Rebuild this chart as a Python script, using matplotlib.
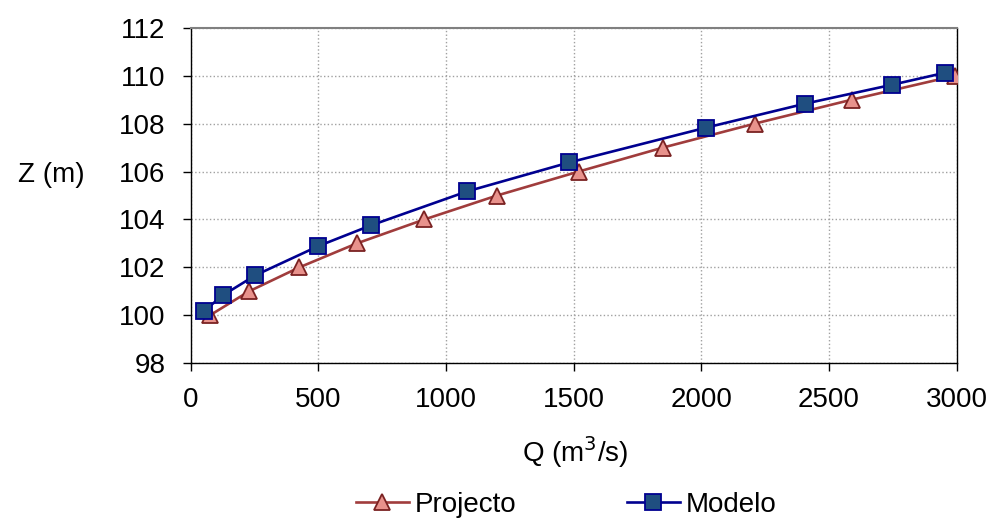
import matplotlib.pyplot as plt

# dati
q_projecto = [75, 228, 425, 650, 915, 1200, 1520, 1850, 2210, 2590, 2995]
z_projecto = [100, 101, 102, 103, 104, 105, 106, 107, 108, 109, 110]

q_modelo = [52, 125, 253, 500, 705, 1082, 1483, 2018, 2406, 2747, 2954]
z_modelo = [100.18, 100.83, 101.67, 102.89, 103.75, 105.17, 106.38, 107.83, 108.83, 109.62, 110.12]

x_ticks = [0, 500, 1000, 1500, 2000, 2500, 3000]
y_ticks = [98, 100, 102, 104, 106, 108, 110, 112]

plt.rcParams['font.family'] = ['Liberation Sans', 'DejaVu Sans']

fig = plt.figure(figsize=(9.92, 5.19), dpi=100)
ax = fig.add_axes([190.7 / 992, 1 - 363.3 / 519, 766 / 992, 335.6 / 519])

ax.plot(q_projecto, z_projecto, color='#a03c3c', lw=1.9, marker='^', ms=12,
        mfc='#e8928c', mec='#7a2222', mew=1.3, label='Projecto', zorder=3)
ax.plot(q_modelo, z_modelo, color='#000090', lw=1.9, marker='s', ms=11,
        mfc='#1f4e80', mec='#000090', mew=1.3, label='Modelo', zorder=4)

ax.set_xlim(0, 3000)
ax.set_ylim(98, 112)
ax.set_xticks(x_ticks)
ax.set_yticks(y_ticks)
ax.tick_params(labelsize=20, direction='out', length=6, width=1)
ax.tick_params(axis='x', pad=11)
ax.tick_params(axis='y', pad=12)
ax.grid(True, color='#a0a0a0', linestyle=':', linewidth=1)
ax.set_axisbelow(True)

for s in ['left', 'bottom', 'right']:
    ax.spines[s].set_color('black')
    ax.spines[s].set_linewidth(1)
ax.spines['top'].set_color('#808080')
ax.spines['top'].set_linewidth(1.5)

ax.set_xlabel('Q (m$^3$/s)', fontsize=20, va='center')
ax.xaxis.set_label_coords(0.502, -0.264)
ax.set_ylabel('Z (m)', fontsize=20, rotation=0, ha='center', va='center')
ax.yaxis.set_label_coords(-0.182, 0.561)

ax.legend(loc='center', bbox_to_anchor=(0.49, -0.422), ncol=2,
          frameon=False, fontsize=20, handlelength=1.9, handletextpad=0.2,
          columnspacing=4)

plt.savefig('out.png', dpi=100)
